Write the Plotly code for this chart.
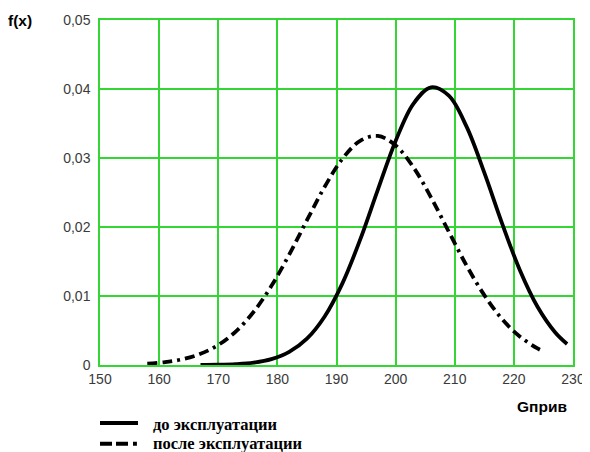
import plotly.graph_objects as go

# Values
x_before = [167, 170, 173, 176, 179, 182, 185, 188, 191, 194, 197, 200, 203, 206,
            209, 212, 215, 218, 221, 224, 227, 229]
f_before = [0.00001, 0.00004, 0.00013, 0.00035, 0.00085, 0.00189, 0.00381, 0.00703,
            0.01183, 0.01816, 0.02543, 0.03248, 0.03786, 0.04025, 0.03903, 0.03454,
            0.02788, 0.02053, 0.01378, 0.00845, 0.00472, 0.00305]

x_after = [158, 161, 164, 167, 170, 173, 176, 179, 182, 185, 188, 191, 194, 197,
           200, 203, 206, 209, 212, 215, 218, 221, 224, 225]
f_after = [0.00019, 0.00042, 0.00085, 0.00162, 0.0029, 0.00488, 0.00772, 0.01147,
           0.016, 0.02098, 0.02583, 0.02988, 0.03249, 0.0332, 0.03182, 0.02867,
           0.02427, 0.0193, 0.01441, 0.01012, 0.00667, 0.00413, 0.0024, 0.00198]

x_ticks = [150, 160, 170, 180, 190, 200, 210, 220, 230]
y_ticks = [0, 0.01, 0.02, 0.03, 0.04, 0.05]
y_tick_labels = ["0", "0,01", "0,02", "0,03", "0,04", "0,05"]

series_names = ["до эксплуатации", "после эксплуатации"]

GRID = "#33d633"
TICKFONT = dict(family="Liberation Sans", size=14, color="#3a3a3a")
SOLID = dict(color="black", width=3.8)
DASHED = dict(color="black", width=3.8, dash="10px,5px,10px,5px,3px,5px")
LEGEND_DASH = dict(color="black", width=4, dash="12px,4px,12px,5px,5px,5px")

fig = go.Figure()
fig.add_trace(go.Scatter(x=x_before, y=f_before, mode="lines", name=series_names[0],
                         line=dict(**SOLID, shape="spline"), showlegend=False))
fig.add_trace(go.Scatter(x=x_after, y=f_after, mode="lines", name=series_names[1],
                         line=dict(**DASHED, shape="spline"), showlegend=False))

legend_font = dict(family="'Liberation Serif', 'Times New Roman', serif",
                   size=16.5, color="black")

fig.update_layout(
    width=582, height=444,
    margin=dict(l=92, r=17, t=12, b=87, autoexpand=False),
    paper_bgcolor="white", plot_bgcolor="white",
    showlegend=False,
    xaxis=dict(range=[150, 230], tickvals=x_ticks, showgrid=True, gridcolor=GRID,
               gridwidth=1.5, zeroline=False, showline=True, linecolor=GRID,
               linewidth=1.5, mirror=True, ticks="", ticklabelstandoff=0,
               tickfont=TICKFONT),
    yaxis=dict(range=[0, 0.05], tickvals=y_ticks, ticktext=y_tick_labels,
               showgrid=True, gridcolor=GRID, gridwidth=1.5, zeroline=False,
               showline=True, linecolor=GRID, linewidth=1.5, mirror=True, ticks="",
               ticklabelstandoff=5, tickfont=TICKFONT),
    shapes=[
        dict(type="line", xref="paper", yref="paper", x0=0.0, x1=0.0803,
             y0=-0.168, y1=-0.168, line=dict(color="black", width=4)),
        dict(type="line", xref="paper", yref="paper", x0=0.0, x1=0.078,
             y0=-0.228, y1=-0.228, line=LEGEND_DASH),
    ],
    annotations=[
        dict(text="<b>" + series_names[0] + "</b>", xref="paper", yref="paper",
             x=0.108, y=-0.172, xanchor="left", yanchor="middle", showarrow=False,
             font=legend_font),
        dict(text="<b>" + series_names[1] + "</b>", xref="paper", yref="paper",
             x=0.108, y=-0.227, xanchor="left", yanchor="middle", showarrow=False,
             font=legend_font),
        dict(text="<b>Gприв</b>", xref="paper", yref="paper", x=0.9915, y=-0.119,
             xanchor="right", yanchor="middle", showarrow=False,
             font=dict(family="Liberation Sans", size=15.5, color="black")),
        dict(text="<b>f(x)</b>", xref="paper", yref="paper", x=-0.198, y=1.0,
             xanchor="left", yanchor="middle", showarrow=False,
             font=dict(family="Liberation Sans", size=15.5, color="black")),
    ],
)

fig.write_html("out.html")
